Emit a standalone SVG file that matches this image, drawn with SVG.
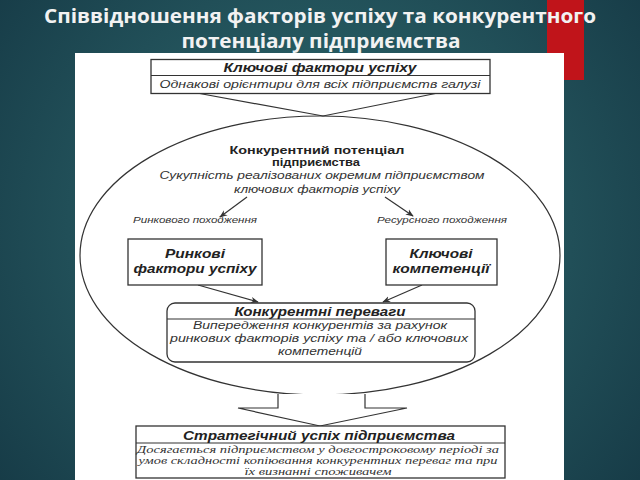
<svg xmlns="http://www.w3.org/2000/svg" width="640" height="480" viewBox="0 0 640 480">
<defs>
<radialGradient id="bg" cx="320" cy="230" r="420" gradientUnits="userSpaceOnUse">
<stop offset="0" stop-color="#2f6e70"/>
<stop offset="0.6" stop-color="#214f58"/>
<stop offset="1" stop-color="#163a46"/>
</radialGradient>
<marker id="ah" viewBox="0 0 10 10" refX="9" refY="5" markerWidth="8" markerHeight="8" orient="auto" markerUnits="userSpaceOnUse">
<path d="M0,1 L10,5 L0,9 L3,5 Z" fill="#333"/>
</marker>
<style>
.ttl{font-family:"Open Sans","Liberation Sans",sans-serif;font-weight:bold;fill:#f2f2f2;font-size:20px}
.box{fill:#fff;stroke:#333;stroke-width:1.3}
.ln{fill:none;stroke:#333;stroke-width:1.2}
.hb{font-family:"Liberation Sans",Arial,sans-serif;font-weight:bold;font-style:italic;font-size:12px;fill:#222}
.hn{font-family:"Liberation Sans",Arial,sans-serif;font-weight:bold;font-size:11.5px;fill:#222}
.it{font-family:"Liberation Sans",Arial,sans-serif;font-style:italic;font-size:10.5px;fill:#333}
.sm{font-family:"Liberation Sans",Arial,sans-serif;font-style:italic;font-size:8.5px;fill:#333}
.sf{font-family:"Liberation Serif","Times New Roman",serif;font-style:italic;font-size:11px;fill:#333}
</style>
</defs>
<rect width="640" height="480" fill="url(#bg)"/>
<rect x="547" y="0" width="37" height="80" fill="#c0141a"/>
<rect x="75" y="53" width="489" height="427" fill="#fff"/>
<g id="title">
<text class="ttl" x="320" y="23" text-anchor="middle" textLength="552" lengthAdjust="spacingAndGlyphs">Співвідношення факторів успіху та конкурентного</text>
<text class="ttl" x="321" y="48" text-anchor="middle" textLength="279" lengthAdjust="spacingAndGlyphs">потенціалу підприємства</text>
</g>
<g id="connectors">
<polyline class="ln" points="197,93 323,116 438,93"/>
<line class="ln" x1="247" y1="197" x2="220" y2="217" marker-end="url(#ah)"/>
<line class="ln" x1="385" y1="197" x2="413" y2="216" marker-end="url(#ah)"/>
<line class="ln" x1="198" y1="285" x2="258" y2="302" marker-end="url(#ah)"/>
<line class="ln" x1="422" y1="285" x2="383" y2="302" marker-end="url(#ah)"/>
</g>
<g id="potential">
<ellipse class="ln" cx="320" cy="255.5" rx="240" ry="139.5"/>
<text class="hn" x="317" y="154" text-anchor="middle" textLength="175" lengthAdjust="spacingAndGlyphs">Конкурентний потенціал</text>
<text class="hn" x="316" y="166" text-anchor="middle" textLength="88" lengthAdjust="spacingAndGlyphs">підприємства</text>
<text class="it" x="322" y="178.5" text-anchor="middle" textLength="325" lengthAdjust="spacingAndGlyphs">Сукупність реалізованих окремим підприємством</text>
<text class="it" x="317" y="193" text-anchor="middle" textLength="166" lengthAdjust="spacingAndGlyphs">ключових факторів  успіху</text>
<text class="sm" x="195" y="223" text-anchor="middle" textLength="124" lengthAdjust="spacingAndGlyphs">Ринкового походження</text>
<text class="sm" x="442" y="223" text-anchor="middle" textLength="130" lengthAdjust="spacingAndGlyphs">Ресурсного походження</text>
</g>
<g id="key-factors">
<rect class="box" x="151" y="59.5" width="339" height="34"/>
<line class="ln" x1="151" y1="75.5" x2="490" y2="75.5"/>
<text class="hb" x="320" y="72" text-anchor="middle" textLength="193" lengthAdjust="spacingAndGlyphs">Ключові фактори успіху</text>
<text class="it" x="320" y="87.5" text-anchor="middle" textLength="321" lengthAdjust="spacingAndGlyphs">Однакові орієнтири  для всіх підприємств  галузі</text>
</g>
<g id="market-factors">
<rect class="box" x="128" y="239" width="134" height="46"/>
<text class="hb" x="195" y="257.5" text-anchor="middle" textLength="60" lengthAdjust="spacingAndGlyphs">Ринкові</text>
<text class="hb" x="195" y="272.5" text-anchor="middle" textLength="123" lengthAdjust="spacingAndGlyphs">фактори успіху</text>
</g>
<g id="key-competences">
<rect class="box" x="386" y="239" width="111" height="46"/>
<text class="hb" x="441" y="257.5" text-anchor="middle" textLength="63" lengthAdjust="spacingAndGlyphs">Ключові</text>
<text class="hb" x="441" y="272.5" text-anchor="middle" textLength="97" lengthAdjust="spacingAndGlyphs">компетенції</text>
</g>
<g id="advantages">
<rect class="box" x="167" y="303" width="308" height="59" rx="8"/>
<line class="ln" x1="167" y1="319" x2="475" y2="319"/>
<text class="hb" x="320" y="315.5" text-anchor="middle" textLength="171" lengthAdjust="spacingAndGlyphs">Конкурентні переваги</text>
<text class="it" x="320" y="329" text-anchor="middle" textLength="254" lengthAdjust="spacingAndGlyphs">Випередження конкурентів  за рахунок</text>
<text class="it" x="319" y="342" text-anchor="middle" textLength="298" lengthAdjust="spacingAndGlyphs">ринкових факторів  успіху та / або ключових</text>
<text class="it" x="320" y="355" text-anchor="middle" textLength="84" lengthAdjust="spacingAndGlyphs">компетенцій</text>
</g>
<g id="block-arrow">
<polyline points="278,394 278,408 238,408 320,426 407,408 365,408 365,394" fill="#fff" stroke="#333" stroke-width="1.2"/>
</g>
<g id="strategic-success">
<rect class="box" x="136" y="426" width="369" height="52"/>
<line class="ln" x1="136" y1="443" x2="505" y2="443"/>
<text class="hb" x="319" y="440" text-anchor="middle" font-size="13" textLength="272" lengthAdjust="spacingAndGlyphs">Стратегічний успіх підприємства</text>
<text class="sf" x="318" y="452.5" text-anchor="middle" textLength="362" lengthAdjust="spacingAndGlyphs">Досягається підприємством у довгостроковому періоді за</text>
<text class="sf" x="318" y="463.5" text-anchor="middle" textLength="359" lengthAdjust="spacingAndGlyphs">умов складності копіювання конкурентних переваг та при</text>
<text class="sf" x="318" y="474.5" text-anchor="middle" textLength="147" lengthAdjust="spacingAndGlyphs">їх визнанні споживачем</text>
</g>
</svg>
